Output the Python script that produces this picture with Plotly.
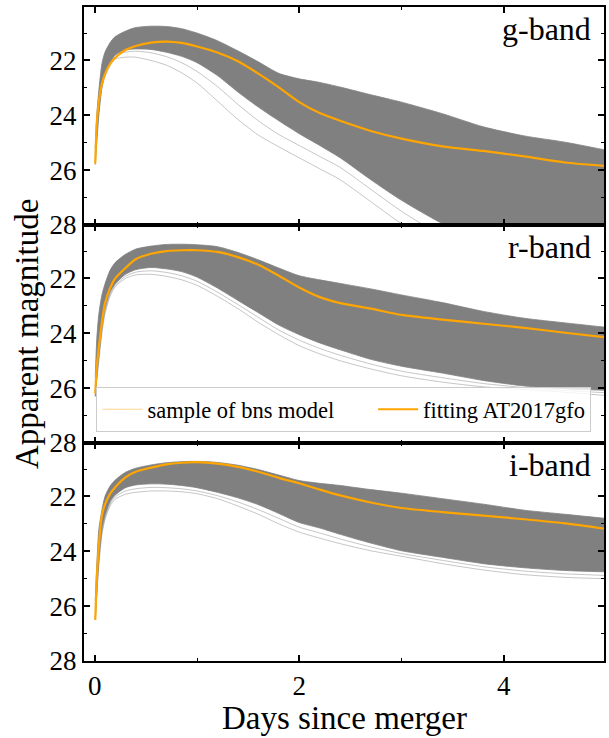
import plotly.graph_objects as go
from plotly.subplots import make_subplots

# time grid (days since merger)
days = [0.005, 0.02, 0.04, 0.07, 0.1, 0.15, 0.2, 0.3, 0.4, 0.55, 0.7, 0.85, 1.0, 1.2,
        1.4, 1.6, 1.8, 2.0, 2.2, 2.4, 2.7, 3.0, 3.4, 3.8, 4.2, 4.6, 5.0]

# ---------------- g-band ----------------
g_fit = [25.76, 24.3, 23.5, 22.85, 22.5, 22.12, 21.9, 21.62, 21.47, 21.35, 21.31, 21.36, 21.49, 21.71,
         22.03, 22.48, 22.98, 23.52, 23.92, 24.2, 24.57, 24.85, 25.13, 25.3, 25.5, 25.72, 25.85]
g_upper = [25.2, 24.0, 23.09, 22.12, 21.7, 21.35, 21.13, 20.93, 20.8, 20.75, 20.76, 20.84, 21.0, 21.28,
           21.65, 22.05, 22.47, 22.67, 22.8, 22.97, 23.25, 23.52, 23.94, 24.42, 24.75, 24.98, 25.27]
g_lower = [25.8, 25.0, 24.0, 23.0, 22.5, 22.1, 21.8, 21.62, 21.58, 21.6, 21.7, 21.85, 22.08, 22.55,
           23.15, 23.7, 24.2, 24.67, 25.1, 25.55, 26.35, 27.1, 27.95, 28.6, 29.1, 29.5, 29.8]
g_faint1 = [25.6, 24.8, 23.8, 23.0, 22.6, 22.2, 21.95, 21.88, 21.88, 22.0, 22.17, 22.45, 22.82, 23.48,
            24.15, 24.72, 25.15, 25.55, 25.95, 26.35, 27.15, 27.95, 28.8, 29.5, 30.0, 30.4, 30.8]
g_faint2 = [25.5, 24.6, 23.6, 22.8, 22.4, 22.0, 21.8, 21.7, 21.66, 21.72, 21.86, 22.08, 22.4, 22.95,
            23.6, 24.2, 24.7, 25.1, 25.5, 25.9, 26.7, 27.5, 28.4, 29.1, 29.6, 30.0, 30.3]

# ---------------- r-band ----------------
r_fit = [26.2, 25.2, 24.5, 23.6, 22.9, 22.35, 22.0, 21.62, 21.3, 21.1, 21.0, 20.97, 20.97, 21.03,
         21.22, 21.5, 21.9, 22.33, 22.68, 22.9, 23.1, 23.33, 23.5, 23.65, 23.8, 23.98, 24.15]
r_upper = [25.6, 24.2, 23.3, 22.6, 22.2, 21.7, 21.42, 21.12, 20.93, 20.82, 20.76, 20.75, 20.77, 20.84,
           21.05, 21.32, 21.62, 21.9, 22.05, 22.18, 22.38, 22.6, 22.88, 23.2, 23.45, 23.62, 23.78]
r_lower = [26.3, 25.6, 24.8, 23.8, 23.1, 22.5, 22.2, 21.85, 21.68, 21.6, 21.65, 21.75, 21.95, 22.35,
           22.8, 23.25, 23.7, 24.05, 24.35, 24.6, 24.95, 25.2, 25.45, 25.72, 25.92, 26.02, 26.08]
r_faint1 = [26.3, 25.7, 25.0, 24.0, 23.3, 22.65, 22.3, 22.0, 21.87, 21.85, 21.92, 22.05, 22.25, 22.65,
            23.1, 23.6, 24.05, 24.45, 24.75, 25.0, 25.3, 25.55, 25.78, 25.95, 26.05, 26.15, 26.27]
r_faint2 = [26.3, 25.65, 24.9, 23.9, 23.2, 22.58, 22.25, 21.92, 21.77, 21.72, 21.78, 21.9, 22.1, 22.5,
            22.95, 23.42, 23.88, 24.25, 24.55, 24.8, 25.12, 25.38, 25.62, 25.83, 25.98, 26.08, 26.17]

# ---------------- i-band ----------------
i_fit = [26.5, 25.0, 23.8, 22.7, 22.3, 21.9, 21.66, 21.3, 21.1, 20.95, 20.83, 20.77, 20.75, 20.8,
         20.92, 21.1, 21.32, 21.52, 21.75, 21.96, 22.22, 22.42, 22.57, 22.7, 22.83, 22.98, 23.18]
i_upper = [25.8, 24.5, 23.2, 22.5, 22.0, 21.62, 21.4, 21.12, 20.97, 20.85, 20.77, 20.73, 20.72, 20.76,
           20.86, 21.02, 21.22, 21.42, 21.52, 21.6, 21.75, 21.88, 22.08, 22.28, 22.5, 22.65, 22.8]
i_lower = [26.5, 25.5, 24.3, 23.2, 22.7, 22.2, 21.95, 21.68, 21.58, 21.54, 21.55, 21.6, 21.68, 21.85,
           22.05, 22.3, 22.62, 22.95, 23.15, 23.38, 23.7, 23.98, 24.22, 24.45, 24.6, 24.7, 24.75]
i_faint1 = [26.5, 25.6, 24.5, 23.4, 22.85, 22.35, 22.1, 21.92, 21.85, 21.8, 21.8, 21.83, 21.9, 22.08,
            22.35, 22.65, 23.0, 23.3, 23.52, 23.72, 23.98, 24.18, 24.45, 24.68, 24.85, 24.95, 25.0]
i_faint2 = [26.5, 25.55, 24.4, 23.3, 22.78, 22.28, 22.02, 21.8, 21.72, 21.67, 21.68, 21.72, 21.8, 21.97,
            22.2, 22.48, 22.8, 23.12, 23.33, 23.55, 23.84, 24.08, 24.33, 24.56, 24.72, 24.82, 24.88]

bands = ["g-band", "r-band", "i-band"]
panels = [
    (g_fit, g_upper, g_lower, g_faint1, g_faint2),
    (r_fit, r_upper, r_lower, r_faint1, r_faint2),
    (i_fit, i_upper, i_lower, i_faint1, i_faint2),
]
tick_vals = [22, 24, 26, 28]
tick_text = ["22", "24", "26", "28"]
x_tick_vals = [0, 2, 4]
x_tick_text = ["0", "2", "4"]
legend_names = ["sample of bns model", "fitting AT2017gfo"]

FONT = "Liberation Serif, Times New Roman, serif"
GRAY = "#808080"
ORANGE = "#FFA500"
SM = 0.7

fig = make_subplots(rows=3, cols=1, shared_xaxes=True, vertical_spacing=0)

for k, (fit, up, lo, f1, f2) in enumerate(panels):
    row = k + 1
    # dense band of model samples
    fig.add_trace(go.Scatter(x=days, y=lo, mode="lines", line=dict(color=GRAY, width=0.8, shape="spline", smoothing=SM),
                             showlegend=False, hoverinfo="skip"), row=row, col=1)
    fig.add_trace(go.Scatter(x=days, y=up, mode="lines", line=dict(color=GRAY, width=0.8, shape="spline", smoothing=SM),
                             fill="tonexty", fillcolor=GRAY, showlegend=False, hoverinfo="skip"), row=row, col=1)
    # sparse outlying samples
    for f in (f2, f1):
        fig.add_trace(go.Scatter(x=days, y=f, mode="lines",
                                 line=dict(color="rgba(128,128,128,0.45)", width=1, shape="spline", smoothing=SM),
                                 showlegend=False, hoverinfo="skip"), row=row, col=1)
    # fit
    fig.add_trace(go.Scatter(x=days, y=fit, mode="lines", line=dict(color=ORANGE, width=2.2, shape="spline", smoothing=SM),
                             showlegend=False, hoverinfo="skip"), row=row, col=1)

# legend-only entries
fig.add_trace(go.Scatter(x=[None], y=[None], mode="lines", name=legend_names[0] + "\u00a0" * 6,
                         line=dict(color="rgba(255,165,0,0.45)", width=1)), row=2, col=1)
fig.add_trace(go.Scatter(x=[None], y=[None], mode="lines", name=legend_names[1],
                         line=dict(color=ORANGE, width=2.2)), row=2, col=1)

axis_common = dict(showline=True, linewidth=2, linecolor="black", mirror="allticks",
                   ticks="inside", ticklen=6, tickwidth=1.5, tickcolor="black",
                   showgrid=False, zeroline=False,
                   tickfont=dict(family=FONT, size=27, color="black"))

for row in (1, 2, 3):
    fig.update_yaxes(range=[28, 20.05], tickmode="array", tickvals=tick_vals, ticktext=tick_text,
                     minor=dict(ticks="inside", dtick=1, tick0=0, ticklen=3, tickwidth=1, tickcolor="black"),
                     row=row, col=1, **axis_common)
    fig.update_xaxes(range=[-0.105, 4.98], tickmode="array", tickvals=x_tick_vals, ticktext=x_tick_text,
                     minor=dict(ticks="inside", dtick=1, tick0=0, ticklen=3, tickwidth=1, tickcolor="black"),
                     row=row, col=1, **axis_common)

annotations = []
domains = [fig.layout.yaxis.domain, fig.layout.yaxis2.domain, fig.layout.yaxis3.domain]
for name, dom in zip(bands, domains):
    annotations.append(dict(text=name, x=0.978, xref="paper", y=dom[1], yref="paper",
                            xanchor="right", yanchor="top", yshift=-2, showarrow=False,
                            font=dict(family=FONT, size=32, color="black")))
annotations.append(dict(text="Apparent magnitude", x=0, xref="paper", y=0.5, yref="paper",
                        xanchor="center", yanchor="middle", xshift=-57, textangle=-90, showarrow=False,
                        font=dict(family=FONT, size=33, color="black")))
annotations.append(dict(text="Days since merger", x=0.5, xref="paper", y=0, yref="paper",
                        xanchor="center", yanchor="middle", yshift=-57, showarrow=False,
                        font=dict(family=FONT, size=33, color="black")))

fig.update_layout(
    width=609, height=738,
    margin=dict(l=84, r=3, t=7, b=77),
    paper_bgcolor="white", plot_bgcolor="white",
    font=dict(family=FONT, color="black"),
    annotations=annotations,
    hovermode=False,
    legend=dict(orientation="h", x=0.024, y=0.35, xanchor="left", yanchor="bottom",
                traceorder="normal",
                bgcolor="rgba(255,255,255,0.8)", bordercolor="#cccccc", borderwidth=1,
                font=dict(family=FONT, size=22.5, color="black"), itemwidth=40),
)

fig.write_html("out.html", config={"displayModeBar": False},
               post_script="document.body.style.margin='0';document.body.style.overflow='hidden';")
